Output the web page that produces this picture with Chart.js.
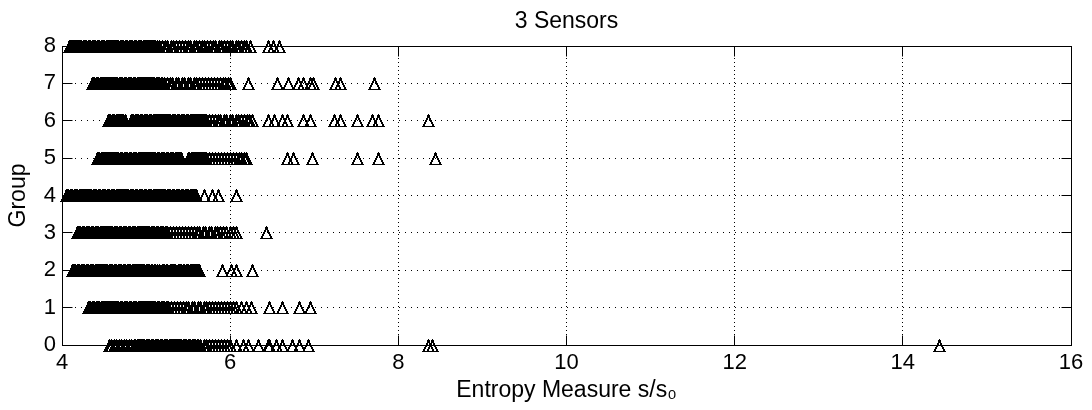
<!DOCTYPE html>
<html>
<head>
<meta charset="utf-8">
<script src="https://cdn.jsdelivr.net/npm/chart.js@4/dist/chart.umd.min.js"></script>
<style>
  html, body { margin: 0; padding: 0; background: #fff; }
  #wrap { width: 1092px; height: 410px; }
</style>
</head>
<body>
<div id="wrap"><canvas id="c" width="1092" height="410"></canvas></div>
<script>
// ---------- data ----------
const titleText = '3 Sensors';
const xTitle = 'Entropy Measure s/s\u2080';
const yTitle = 'Group';
const xTicks = [4, 6, 8, 10, 12, 14, 16];
const yTicks = [0, 1, 2, 3, 4, 5, 6, 7, 8];
const groups = [0, 1, 2, 3, 4, 5, 6, 7, 8];

const entropyG0 = [4.56,4.59,4.62,4.65,4.68,4.71,4.74,4.77,4.8,4.83,4.86,4.88,
  4.9,4.91,4.92,4.93,4.95,4.96,4.97,4.98,5.0,5.01,5.02,5.03,5.04,5.06,5.07,5.08,5.09,5.11,5.12,5.13,5.14,5.15,5.17,5.18,5.19,5.2,5.22,5.23,5.24,5.25,5.26,5.28,5.29,5.3,5.31,5.33,5.34,5.35,5.36,5.37,5.39,5.4,5.41,5.42,5.44,5.45,5.46,5.47,5.48,5.5,5.51,5.52,5.53,5.55,5.56,5.57,5.58,5.59,5.61,5.62,
  5.65,5.69,5.72,5.76,5.79,5.83,5.86,5.9,5.93,5.97,6.0,6.08,6.16,6.22,
  6.34,6.45,6.47,6.55,6.62,6.74,6.83,6.93,8.36,8.41,14.44];
const entropyG1 = [4.31,4.32,4.33,4.34,4.36,4.37,4.38,4.39,4.41,4.42,4.43,4.44,4.45,4.47,4.48,4.49,4.5,4.52,4.53,4.54,4.55,4.56,4.58,4.59,4.6,4.61,4.63,4.64,4.65,4.66,4.67,4.69,4.7,4.71,4.72,4.74,4.75,4.76,4.77,4.78,4.8,4.81,4.82,4.83,4.85,4.86,4.87,4.88,4.89,4.91,4.92,4.93,4.94,4.96,4.97,4.98,4.99,5.0,5.02,5.03,5.04,5.05,5.07,5.08,5.09,5.1,5.11,5.13,5.14,5.15,5.16,5.18,5.19,5.2,5.21,5.22,5.24,5.25,5.27,
  5.3,5.34,5.37,5.41,5.44,5.48,5.51,5.55,5.58,5.62,5.65,5.69,5.72,5.76,5.79,5.83,5.86,5.9,5.93,5.97,6.0,6.04,6.08,6.13,6.19,6.25,
  6.47,6.62,6.82,6.96];
const entropyG2 = [4.13,4.14,4.15,4.16,4.18,4.19,4.2,4.21,4.23,4.24,4.25,4.26,4.27,4.29,4.3,4.31,4.32,4.34,4.35,4.36,4.37,4.38,4.4,4.41,4.42,4.43,4.45,4.46,4.47,4.48,4.49,4.51,4.52,4.53,4.54,4.56,4.57,4.58,4.59,4.6,4.62,4.63,4.64,4.65,4.67,4.68,4.69,4.7,4.71,4.73,4.74,4.75,4.76,4.78,4.79,4.8,4.81,4.82,4.84,4.85,4.86,4.87,4.89,4.9,4.91,4.92,4.93,4.95,4.96,4.97,4.98,5.0,5.01,5.02,5.03,5.04,5.06,5.07,5.08,
  5.1,5.11,5.13,5.14,5.16,5.2,5.21,5.22,5.24,5.25,5.29,5.3,5.31,5.33,5.34,5.35,5.39,5.4,5.41,5.42,
  5.44,5.45,5.46,5.48,5.49,5.5,5.51,5.53,5.54,5.55,5.56,5.57,5.59,5.6,5.61,5.62,5.64,
  5.91,6.02,6.08,6.26];
const entropyG3 = [4.19,4.2,4.21,4.22,4.24,4.25,4.26,4.27,4.29,4.3,4.31,4.32,4.33,4.35,4.36,4.37,4.38,4.4,4.41,4.42,4.43,4.44,4.46,4.47,4.48,4.49,4.51,4.52,4.53,4.54,4.55,4.57,4.58,4.59,4.6,4.62,4.63,4.64,4.65,4.66,4.68,4.69,4.7,4.71,4.73,4.74,4.75,4.76,4.77,4.79,4.8,4.81,4.82,4.84,4.85,4.86,4.87,4.88,4.9,4.91,4.92,4.93,4.95,4.96,4.97,4.98,4.99,5.01,5.02,5.03,5.04,5.06,5.07,5.08,5.09,5.1,5.12,5.13,5.14,5.15,5.17,5.18,5.19,5.2,5.21,5.23,5.24,5.26,
  5.29,5.33,5.36,5.4,5.43,5.47,5.5,5.54,5.57,5.61,5.64,5.68,5.71,5.75,5.78,5.82,5.85,5.89,5.92,5.96,6.0,6.04,6.08,
  6.43];
const entropyG4 = [4.05,4.06,4.07,4.08,4.1,4.11,4.12,4.13,4.15,4.16,4.17,4.18,4.19,4.21,4.22,4.23,4.24,4.26,4.27,4.28,4.29,4.3,4.32,4.33,4.34,4.35,4.37,4.38,4.39,4.4,4.41,4.43,4.44,4.45,4.46,4.48,4.49,4.5,4.51,4.52,4.54,4.55,4.56,4.57,4.59,4.6,4.61,4.62,4.63,4.65,4.66,4.67,4.68,4.7,4.71,4.72,4.73,4.74,4.76,4.77,4.78,4.79,4.81,4.82,4.83,4.84,4.85,4.87,4.88,4.89,4.9,4.92,4.93,4.94,4.95,4.96,4.98,4.99,5.0,5.01,5.03,5.04,5.05,5.06,5.07,5.09,5.1,5.11,5.12,5.14,5.15,5.16,5.17,5.18,5.2,5.21,5.22,5.23,5.25,5.26,5.27,5.28,5.29,5.31,5.32,5.33,5.34,5.36,5.37,5.38,5.39,5.4,5.42,5.43,5.44,5.45,5.47,5.48,5.49,5.5,5.51,5.53,5.54,5.55,5.56,5.58,5.59,5.6,
  5.7,5.79,5.86,6.08];
const entropyG5 = [4.42,4.43,4.44,4.45,4.47,4.48,4.49,4.5,4.52,4.53,4.54,4.55,4.56,4.58,4.59,4.6,4.61,4.63,4.64,4.65,4.66,4.67,4.69,4.7,4.71,4.72,4.74,4.75,4.76,4.77,4.78,4.8,4.81,4.82,4.83,4.85,4.86,4.87,4.88,4.89,4.91,4.92,4.93,4.94,4.96,4.97,4.98,4.99,5.0,5.02,5.03,5.04,5.05,5.07,5.08,5.09,5.1,5.11,5.13,5.14,5.15,5.16,5.18,5.19,5.2,5.21,5.22,5.24,5.25,5.26,5.27,5.29,5.3,5.31,5.32,5.33,5.35,5.36,5.37,5.38,5.4,5.41,5.42,
  5.5,5.51,5.52,5.54,5.55,5.56,5.57,5.59,5.6,5.61,5.62,5.63,5.65,5.66,5.67,5.68,5.7,5.71,5.72,
  5.76,5.79,5.83,5.86,5.9,5.93,5.97,6.0,6.04,6.07,6.11,6.14,6.17,6.2,
  6.68,6.75,6.98,7.51,7.76,8.44];
const entropyG6 = [4.55,4.56,4.57,4.58,4.6,4.61,4.62,4.63,4.65,4.66,4.67,4.68,4.69,4.71,4.72,4.73,4.75,
  4.83,4.84,4.85,4.87,4.88,4.89,4.9,4.91,4.93,4.94,4.95,4.96,4.98,4.99,5.0,5.01,5.02,5.04,5.05,5.06,5.07,5.09,5.1,5.11,5.12,5.13,5.15,5.16,5.17,5.18,5.2,5.21,5.22,5.23,5.24,5.26,5.27,5.28,5.29,5.31,5.32,5.33,5.34,5.35,5.37,5.38,5.39,5.4,5.42,5.43,5.44,5.45,5.46,5.48,5.49,5.5,5.51,5.53,5.54,5.55,5.56,5.57,5.59,5.6,5.61,5.62,5.64,5.65,5.66,5.67,5.68,5.7,5.71,5.72,
  5.75,5.79,5.82,5.86,5.89,5.93,5.96,6.0,6.03,6.07,6.1,6.14,6.17,6.21,6.23,6.26,
  6.45,6.53,6.62,6.68,6.87,6.95,7.24,7.31,7.52,7.69,7.77,8.36];
const entropyG7 = [4.36,4.37,4.38,4.39,4.41,4.42,4.43,4.44,4.46,4.47,4.48,4.49,4.5,4.52,4.53,4.54,4.55,4.57,4.58,4.59,4.6,4.61,4.63,4.64,4.65,4.66,4.68,4.69,4.7,4.71,4.72,4.74,4.75,4.76,4.77,4.79,4.8,4.81,4.82,4.83,4.85,4.86,4.87,4.88,4.9,4.91,4.92,4.93,4.94,4.96,4.97,4.98,4.99,5.01,5.02,5.03,5.04,5.05,5.07,5.08,5.09,5.1,5.12,5.13,5.14,5.15,5.16,5.18,5.19,5.2,5.22,
  5.25,5.29,5.32,5.36,5.39,5.43,5.46,5.5,5.53,5.57,5.6,5.64,5.67,5.71,5.74,5.78,5.81,5.85,5.88,5.92,5.95,5.98,6.0,
  6.22,6.56,6.69,6.81,6.87,6.95,6.99,7.25,7.31,7.72];
const entropyG8 = [4.09,4.1,4.11,4.12,4.14,4.15,4.16,4.17,4.18,4.2,4.21,4.22,4.23,4.25,4.26,4.27,4.28,4.29,4.31,4.32,4.33,4.34,4.36,4.37,4.38,4.39,4.4,4.42,4.43,4.44,4.45,4.47,4.48,4.49,4.5,4.51,4.53,4.54,4.55,4.56,4.58,4.59,4.6,4.61,4.62,4.64,4.65,4.66,4.67,4.69,4.7,4.71,4.72,4.73,4.75,4.76,4.77,4.78,4.8,4.81,4.82,4.83,4.84,4.86,4.87,4.88,4.89,4.91,4.92,4.93,4.94,4.95,4.97,4.98,4.99,5.0,5.02,5.03,5.04,5.05,5.06,5.08,5.09,5.1,5.11,5.13,
  5.16,5.19,5.23,5.26,5.3,5.33,5.36,5.4,5.43,5.47,5.5,5.53,5.57,5.6,5.63,5.67,5.7,5.73,5.77,5.8,5.83,5.87,5.9,5.93,5.97,6.0,6.03,6.07,6.1,6.13,6.17,6.2,6.24,
  6.45,6.52,6.59];

const seriesValues = [entropyG0, entropyG1, entropyG2, entropyG3, entropyG4, entropyG5, entropyG6, entropyG7, entropyG8];

// ---------- marker: open triangle (MATLAB '^'), crisp pixels ----------
function makeTriangle() {
  const s = 13;
  const cv = document.createElement('canvas');
  cv.width = s; cv.height = s;
  const g = cv.getContext('2d');
  g.fillStyle = '#000';
  g.fillRect(6, 0, 1, 1);
  for (let r = 1; r < s - 1; r++) {
    const h = Math.floor(r / 2);
    const l = 6 - h, rr = 6 + h;
    g.fillRect(l, r, 2, 1);
    g.fillRect(rr - 1, r, 2, 1);
  }
  g.fillRect(0, s - 1, s, 1);
  return cv;
}
const tri = makeTriangle();

const FONT = '"Liberation Sans", Arial, Helvetica, sans-serif';

function align(p) { return Math.round(p - 0.5) + 0.5; }

const framePlugin = {
  id: 'frame',
  beforeDatasetsDraw(chart) {
    const ctx = chart.ctx, a = chart.chartArea;
    const xs = chart.scales.x, ys = chart.scales.y;
    const L = align(a.left), R = align(a.right), T = align(a.top), B = align(a.bottom);
    ctx.save();
    ctx.strokeStyle = '#000';
    ctx.lineWidth = 1;
    ctx.beginPath();
    ctx.rect(L, T, R - L, B - T);
    const tl = 10;
    xTicks.forEach(v => {
      const px = align(xs.getPixelForValue(v));
      ctx.moveTo(px, B); ctx.lineTo(px, B - tl);
      ctx.moveTo(px, T); ctx.lineTo(px, T + tl);
    });
    yTicks.forEach(v => {
      const py = align(ys.getPixelForValue(v));
      ctx.moveTo(L, py); ctx.lineTo(L + tl, py);
      ctx.moveTo(R, py); ctx.lineTo(R - tl, py);
    });
    ctx.stroke();
    ctx.restore();
    ctx.save();
    ctx.imageSmoothingEnabled = false;
  },
  afterDatasetsDraw(chart) {
    chart.ctx.restore();
  }
};

const datasets = seriesValues.map((vals, i) => ({
  label: 'Group ' + groups[i],
  data: vals.map(v => ({ x: v, y: groups[i] })),
  pointStyle: tri,
  pointRadius: 7,
  borderColor: '#000',
  backgroundColor: 'rgba(0,0,0,0)',
  showLine: false,
  clip: false
}));

new Chart(document.getElementById('c'), {
  type: 'scatter',
  data: { datasets },
  plugins: [framePlugin],
  options: {
    responsive: false,
    animation: false,
    events: [],
    layout: { padding: { top: 0, right: 21, bottom: 0, left: 0 } },
    plugins: {
      legend: { display: false },
      tooltip: { enabled: false },
      title: {
        display: true,
        text: titleText,
        fullSize: false,
        color: '#000',
        font: { family: FONT, size: 23, weight: 'normal' },
        padding: { top: 8, bottom: 10.4 }
      }
    },
    scales: {
      x: {
        type: 'linear',
        min: 4, max: 16,
        afterBuildTicks: s => { s.ticks = xTicks.map(v => ({ value: v })); },
        afterFit: s => { s.height = 65; },
        ticks: { color: '#000', font: { family: FONT, size: 22 }, padding: 5, maxRotation: 0, autoSkip: false },
        grid: { color: '#000', lineWidth: 1, drawTicks: false },
        border: { display: true, color: '#000', width: 1, dash: [1, 3] },
        title: { display: true, text: xTitle, color: '#000', font: { family: FONT, size: 23 }, padding: { top: 0, bottom: 6 } }
      },
      y: {
        type: 'linear',
        min: 0, max: 8,
        afterBuildTicks: s => { s.ticks = yTicks.map(v => ({ value: v })); },
        afterFit: s => { s.width = 62; },
        ticks: { color: '#000', font: { family: FONT, size: 22 }, padding: 6, autoSkip: false },
        grid: { color: '#000', lineWidth: 1, drawTicks: false },
        border: { display: true, color: '#000', width: 1, dash: [1, 5] },
        title: { display: true, text: yTitle, color: '#000', font: { family: FONT, size: 23 }, padding: { top: 5, bottom: 0 } }
      }
    }
  }
});
</script>
</body>
</html>
